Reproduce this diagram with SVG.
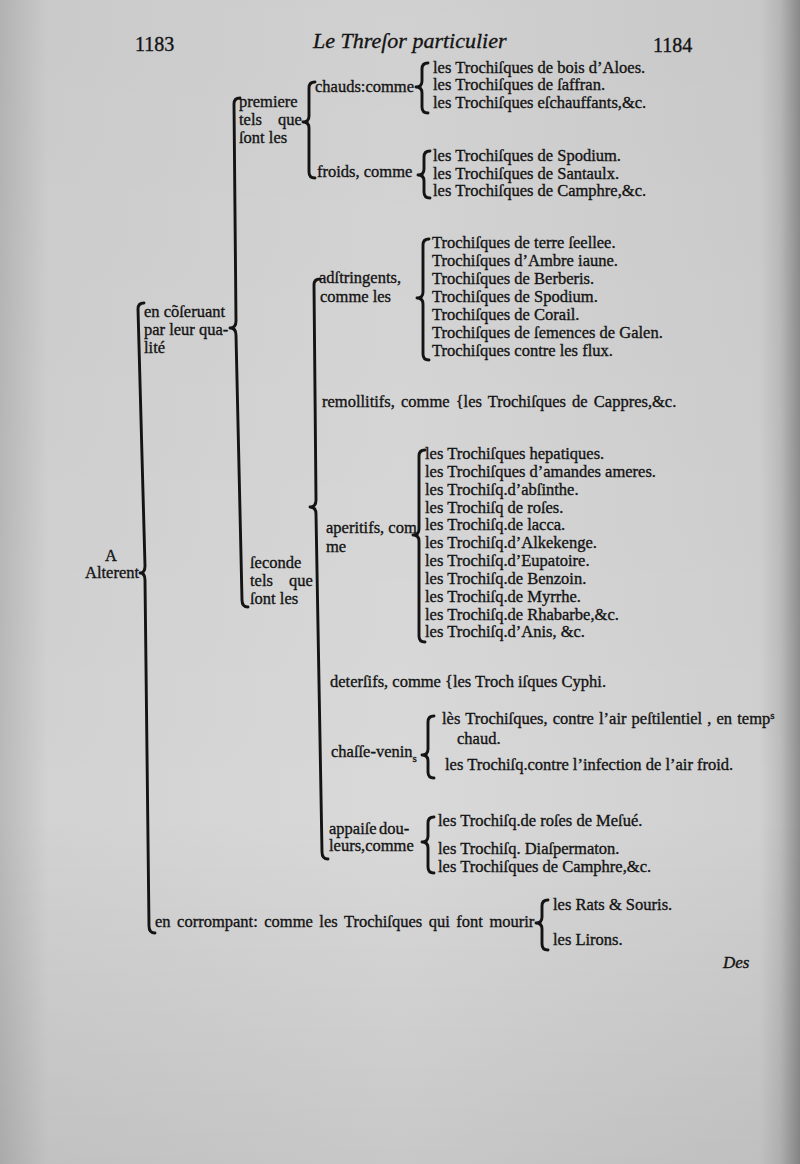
<svg xmlns="http://www.w3.org/2000/svg" width="800" height="1164" viewBox="0 0 800 1164">
<defs>
<linearGradient id="page" x1="0" y1="0" x2="1" y2="0">
<stop offset="0" stop-color="#b9b9b9"/>
<stop offset="0.06" stop-color="#d2d2d2"/>
<stop offset="0.5" stop-color="#d9d9d9"/>
<stop offset="0.95" stop-color="#d0d0d0"/>
<stop offset="0.975" stop-color="#bdbdbd"/>
<stop offset="1" stop-color="#8e8e8e"/>
</linearGradient>
<linearGradient id="shade" x1="0" y1="0" x2="0" y2="1">
<stop offset="0" stop-color="#000" stop-opacity="0.04"/>
<stop offset="0.7" stop-color="#000" stop-opacity="0"/>
<stop offset="1" stop-color="#000" stop-opacity="0.08"/>
</linearGradient>
</defs>
<style>
text{font-family:"Liberation Serif","DejaVu Serif",serif;font-size:16.5px;fill:#141414;stroke:#141414;stroke-width:0.35}
.hd{font-size:22px;font-style:italic}
.pg{font-size:20px}
.it{font-style:italic;font-size:17px}
.sm{font-size:11px}
.br{fill:none;stroke:#141414;stroke-width:2.9;stroke-linecap:round;stroke-linejoin:round}
</style>
<rect width="800" height="1164" fill="url(#page)"/>
<rect width="800" height="1164" fill="url(#shade)"/>

<g id="header">
<text class="pg" x="135" y="51">1183</text>
<text class="hd" x="313" y="48">Le Threſor particulier</text>
<text class="pg" x="653" y="52">1184</text>
</g>

<g id="connectors">
<path class="br" d="M428,63 Q422,63 422,69 V81 Q422,87 416,87 Q422,87 422,93 V107 Q422,113 428,113"/>
<path class="br" d="M430,151 Q424,151 424,157 V169 Q424,175 418,175 Q424,175 424,181 V192 Q424,198 430,198"/>
<path class="br" d="M315,82 Q309,82 309,88 V116 Q309,122 303,122 Q309,122 309,128 V172 Q309,178 315,178"/>
<path class="br" d="M429,239 Q423,239 423,245 V292 Q423,298 417,298 Q423,298 423,304 V354 Q423,360 429,360"/>
<path class="br" d="M425,450 Q419,450 419,456 V529 Q419,535 413,535 Q419,535 419,541 V636 Q419,642 425,642"/>
<path class="br" d="M434,716 Q428,716 428,722 V749 Q428,755 422,755 Q428,755 428,761 V772 Q428,778 434,778"/>
<path class="br" d="M434,817 Q428,817 428,823 V836 Q428,842 422,842 Q428,842 428,848 V867 Q428,873 434,873"/>
<path class="br" d="M548,900 Q542,900 542,906 V917 Q542,923 536,923 Q542,923 542,929 V944 Q542,950 548,950"/>
<path class="br" d="M320,279 Q314,279 314,285 L316,500 Q316,507 310,507 Q316,507 316,514 L322,852 Q322,859 328,859"/>
<path class="br" d="M240,98 Q234,98 234,104 L236,321 Q236,328 230,328 Q236,328 236,335 L242,600 Q242,607 248,607"/>
<path class="br" d="M144,303 Q138,303 138,309 L145,566 Q145,573 140,573 Q145,573 145,580 L149,926 Q149,933 155,933"/>
</g>

<g id="n-alterent">
<text x="105" y="561">A</text>
<text x="85" y="578">Alterent</text>
</g>

<g id="n-conseruant">
<text x="144" y="317">en cõſeruant</text>
<text x="144" y="335">par leur qua-</text>
<text x="144" y="353">lité</text>
</g>

<g id="n-premiere">
<text x="239" y="107">premiere</text>
<text x="239" y="125">tels<tspan x="278">que</tspan></text>
<text x="239" y="143">ſont les</text>
</g>

<g id="n-chauds">
<text x="315" y="92">chauds:comme</text>
</g>
<g id="n-chauds-items">
<text x="433" y="73">les Trochiſques de bois d’Aloes.</text>
<text x="433" y="90">les Trochiſques de ſaffran.</text>
<text x="433" y="108">les Trochiſques eſchauffants,&amp;c.</text>
</g>

<g id="n-froids">
<text x="317" y="177">froids, comme</text>
</g>
<g id="n-froids-items">
<text x="433" y="161">les Trochiſques de Spodium.</text>
<text x="433" y="178.5">les Trochiſques de Santaulx.</text>
<text x="433" y="196">les Trochiſques de Camphre,&amp;c.</text>
</g>

<g id="n-seconde">
<text x="250" y="568">ſeconde</text>
<text x="250" y="586">tels<tspan x="289">que</tspan></text>
<text x="250" y="604">ſont les</text>
</g>

<g id="n-adstringents">
<text x="319" y="283">adſtringents,</text>
<text x="320" y="302">comme les</text>
</g>
<g id="n-adstringents-items">
<text x="432" y="248">Trochiſques de terre ſeellee.</text>
<text x="432" y="266">Trochiſques d’Ambre iaune.</text>
<text x="432" y="284">Trochiſques de Berberis.</text>
<text x="432" y="302">Trochiſques de Spodium.</text>
<text x="432" y="320">Trochiſques de Corail.</text>
<text x="432" y="338">Trochiſques de ſemences de Galen.</text>
<text x="432" y="356">Trochiſques contre les flux.</text>
</g>

<g id="n-remollitifs">
<text x="322" y="407" word-spacing="2">remollitifs, comme {les Trochiſques de Cappres,&amp;c.</text>
</g>

<g id="n-aperitifs">
<text x="326" y="533">aperitifs, com</text>
<text x="326" y="552">me</text>
</g>
<g id="n-aperitifs-items">
<text x="425" y="459">les Trochiſques hepatiques.</text>
<text x="425" y="477">les Trochiſques d’amandes ameres.</text>
<text x="425" y="495">les Trochiſq.d’abſinthe.</text>
<text x="425" y="513">les Trochiſq de roſes.</text>
<text x="425" y="530">les Trochiſq.de lacca.</text>
<text x="425" y="548">les Trochiſq.d’Alkekenge.</text>
<text x="425" y="566">les Trochiſq.d’Eupatoire.</text>
<text x="425" y="584">les Trochiſq.de Benzoin.</text>
<text x="425" y="602">les Trochiſq.de Myrrhe.</text>
<text x="425" y="620">les Trochiſq.de Rhabarbe,&amp;c.</text>
<text x="425" y="637">les Trochiſq.d’Anis, &amp;c.</text>
</g>

<g id="n-detersifs">
<text x="330" y="687">deterſifs, comme {les Troch iſques Cyphi.</text>
</g>

<g id="n-chasse">
<text x="331" y="757">chaſſe-venin<tspan class="sm" dy="5">s</tspan></text>
</g>
<g id="n-chasse-items">
<text x="442" y="724" word-spacing="1">lès Trochiſques, contre l’air peſtilentiel , en temp<tspan class="sm" dy="-5">s</tspan></text>
<text x="457" y="744">chaud.</text>
<text x="445" y="770">les Trochiſq.contre l’infection de l’air froid.</text>
</g>

<g id="n-appaise">
<text x="329" y="834">appaiſe<tspan x="379">dou-</tspan></text>
<text x="329" y="851">leurs,comme</text>
</g>
<g id="n-appaise-items">
<text x="438" y="826">les Trochiſq.de roſes de Meſué.</text>
<text x="438" y="854">les Trochiſq. Diaſpermaton.</text>
<text x="438" y="872">les Trochiſques de Camphre,&amp;c.</text>
</g>

<g id="n-corrompant">
<text x="155" y="927" word-spacing="2.4">en corrompant: comme les Trochiſques qui font mourir</text>
</g>
<g id="n-corrompant-items">
<text x="553" y="910">les Rats &amp; Souris.</text>
<text x="553" y="945">les Lirons.</text>
</g>

<g id="footer">
<text class="it" x="723" y="968">Des</text>
</g>
</svg>
